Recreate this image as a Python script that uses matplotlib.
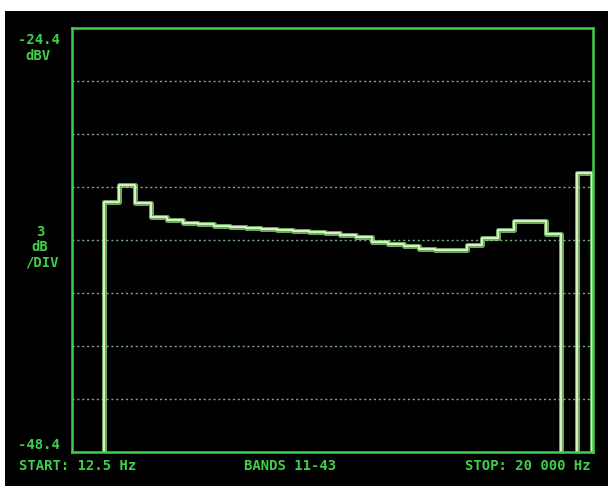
import numpy as np
import matplotlib
matplotlib.use("Agg")
import matplotlib.pyplot as plt

# 1/3-octave bands 11..43 (12.5 Hz .. 20 kHz), level in dBV
# (-50 = below the bottom of the screen)
bands = list(range(11, 44))
levels = [-50.0, -50.0, -34.25, -33.3, -34.3, -35.1, -35.27, -35.44, -35.49, -35.61,
          -35.66, -35.72, -35.78, -35.83, -35.89, -35.95, -36.0, -36.12, -36.23, -36.51,
          -36.63, -36.74, -36.91, -36.97, -36.97, -36.68, -36.29, -35.83, -35.32, -35.32,
          -36.06, -50.0, -32.61]
y_top = -24.4
y_bottom = -48.4
db_per_div = 3

green = "#3fd04a"
trace_core = "#e4f7d2"
trace_glow = "#8fe27a"
grid_col = "#7fa88a"

fig = plt.figure(figsize=(6.08, 4.86), dpi=100, facecolor="white")
# black screen, with the white paper margin on top and left
fig.patches.append(plt.Rectangle((5 / 608, 0), 1, 1 - 11 / 486, transform=fig.transFigure,
                                 facecolor="black", edgecolor="none", zorder=-5))

ax = fig.add_axes([72 / 608, 1 - 452 / 486, (593 - 72) / 608, (452 - 28) / 486])
ax.set_zorder(2)
ax.set_facecolor("black")
ax.set_xlim(0, len(bands))
ax.set_ylim(y_bottom, y_top)

# dotted horizontal graticule
for yv in np.arange(y_bottom + db_per_div, y_top - 0.1, db_per_div):
    ax.axhline(yv, color=grid_col, lw=1.0, ls=(0, (1.5, 2.0)), zorder=1)

for s in ax.spines.values():
    s.set_color(green)
    s.set_linewidth(1.8)
    s.set_zorder(5)
ax.set_xticks([])
ax.set_yticks([])

x = np.arange(len(bands) + 1)
y = levels + [y_bottom - 2]
x = np.append(x, len(bands) - 0.05)
y = np.append(y, y_bottom - 2)
x[-2] = len(bands) - 0.05
ax.step(x, y, where="post", color=trace_glow, lw=3.6, alpha=0.75, zorder=3)
ax.step(x, y, where="post", color=trace_core, lw=1.3, zorder=4)

font = dict(family="DejaVu Sans Mono", weight="bold", color=green, fontsize=10)
fig.text(18 / 608, 1 - 40 / 486, "-24.4", va="center", ha="left", **font)
fig.text(38 / 608, 1 - 56 / 486, "dBV", va="center", ha="center", **font)
fig.text(40 / 608, 1 - 232 / 486, "3", va="center", ha="center", **font)
fig.text(40 / 608, 1 - 247 / 486, "dB", va="center", ha="center", **font)
fig.text(42 / 608, 1 - 262 / 486, "/DIV", va="center", ha="center", **font)
fig.text(18 / 608, 1 - 445 / 486, "-48.4", va="center", ha="left", **font)
fig.text(19 / 608, 1 - 466 / 486, "START: 12.5 Hz", va="center", ha="left", **font)
fig.text(290 / 608, 1 - 466 / 486, "BANDS %d-%d" % (bands[0], bands[-1]), va="center", ha="center", **font)
fig.text(591 / 608, 1 - 466 / 486, "STOP: 20 000 Hz", va="center", ha="right", **font)

fig.savefig("out.png", dpi=100, facecolor=fig.get_facecolor())
